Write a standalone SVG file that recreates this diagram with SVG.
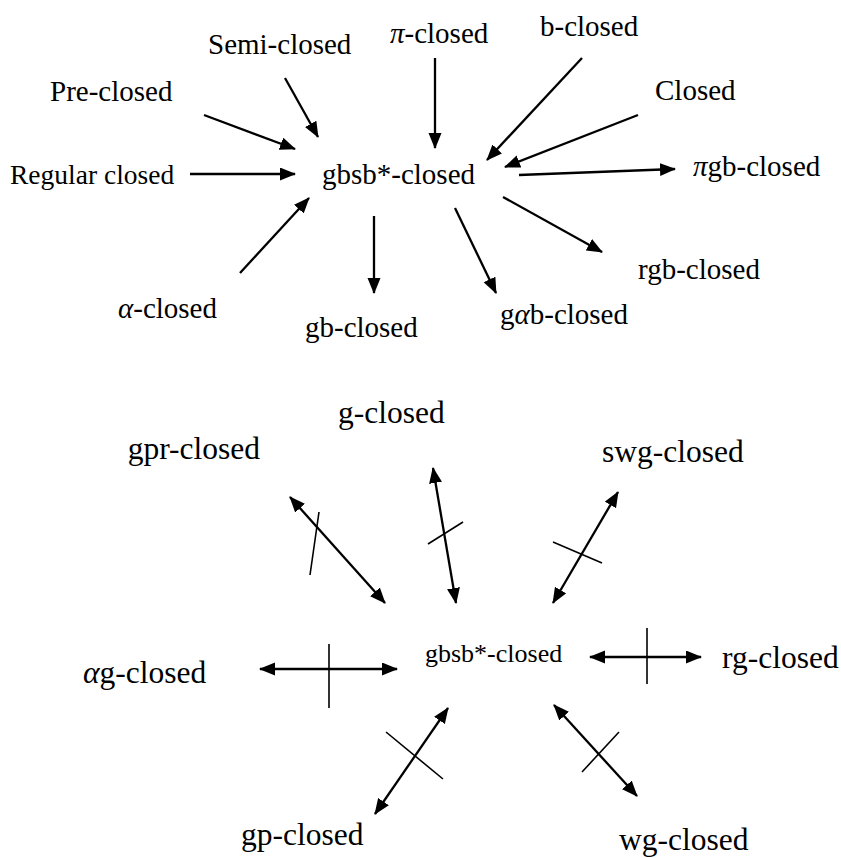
<svg xmlns="http://www.w3.org/2000/svg" width="841" height="858" viewBox="0 0 841 858">
<defs>
<marker id="ah" markerUnits="userSpaceOnUse" markerWidth="18" markerHeight="14" refX="15" refY="6.5" orient="auto-start-reverse" viewBox="0 0 18 14">
<path d="M0,0 L16,6.5 L0,13 z" fill="#000"/>
</marker>
<style>
text{font-family:"Liberation Serif","Times New Roman",serif;fill:#000}
.t{font-size:29px}
.b{font-size:31.5px}
.s{font-size:26px}
.m{font-style:italic}
.a{stroke:#000;stroke-width:2.3;fill:none;marker-end:url(#ah)}
.d{stroke:#000;stroke-width:2.3;fill:none;marker-start:url(#ah);marker-end:url(#ah)}
.k{stroke:#000;stroke-width:1.6;fill:none}
</style>
</defs>
<rect width="841" height="858" fill="#fff"/>
<g id="connectors">
<line class="a" x1="285" y1="78" x2="318" y2="137"/>
<line class="a" x1="204" y1="115" x2="295" y2="149"/>
<line class="a" x1="190" y1="174" x2="295" y2="174"/>
<line class="a" x1="435" y1="58" x2="435" y2="148"/>
<line class="a" x1="582" y1="58" x2="487" y2="160"/>
<line class="a" x1="638" y1="115" x2="505" y2="167"/>
<line class="a" x1="519" y1="175" x2="675" y2="169"/>
<line class="a" x1="240" y1="273" x2="309" y2="198"/>
<line class="a" x1="374" y1="216" x2="374" y2="293"/>
<line class="a" x1="455" y1="208" x2="496" y2="293"/>
<line class="a" x1="503" y1="197" x2="602" y2="252"/>
<line class="d" x1="290" y1="497" x2="385" y2="603"/>
<line class="k" x1="319" y1="512" x2="310" y2="575"/>
<line class="d" x1="433" y1="468" x2="456" y2="603"/>
<line class="k" x1="428" y1="544" x2="463" y2="522"/>
<line class="d" x1="618" y1="492" x2="553" y2="603"/>
<line class="k" x1="553" y1="542" x2="602" y2="563"/>
<line class="d" x1="260" y1="669" x2="397" y2="669"/>
<line class="k" x1="329" y1="644" x2="329" y2="708"/>
<line class="d" x1="590" y1="657" x2="701" y2="657"/>
<line class="k" x1="647" y1="628" x2="647" y2="684"/>
<line class="d" x1="448" y1="708" x2="375" y2="814"/>
<line class="k" x1="386" y1="732" x2="443" y2="779"/>
<line class="d" x1="554" y1="705" x2="637" y2="796"/>
<line class="k" x1="619" y1="732" x2="582" y2="772"/>
</g>
<g id="semi-closed"><text class="t" x="208" y="54">Semi-closed</text></g>
<g id="pi-closed"><text class="t" x="390" y="43"><tspan class="m">π</tspan>-closed</text></g>
<g id="b-closed"><text class="t" x="540" y="36">b-closed</text></g>
<g id="pre-closed"><text class="t" x="50" y="101">Pre-closed</text></g>
<g id="closed"><text class="t" x="655" y="100">Closed</text></g>
<g id="regular-closed"><text x="10" y="184" style="font-size:27.5px">Regular closed</text></g>
<g id="gbsb-top"><text class="t" x="322" y="184">gbsb*-closed</text></g>
<g id="pigb-closed"><text class="t" x="693" y="176"><tspan class="m">π</tspan>gb-closed</text></g>
<g id="rgb-closed"><text class="t" x="638" y="279">rgb-closed</text></g>
<g id="alpha-closed"><text class="t" x="118" y="318"><tspan class="m">α</tspan>-closed</text></g>
<g id="gb-closed"><text class="t" x="305" y="337">gb-closed</text></g>
<g id="galphab-closed"><text class="t" x="500" y="324">g<tspan class="m">α</tspan>b-closed</text></g>
<g id="g-closed"><text class="b" x="338" y="423">g-closed</text></g>
<g id="gpr-closed"><text class="b" x="260" y="459" text-anchor="end">gpr-closed</text></g>
<g id="swg-closed"><text class="b" x="602" y="462">swg-closed</text></g>
<g id="alphag-closed"><text class="b" x="83" y="683"><tspan class="m">α</tspan>g-closed</text></g>
<g id="gbsb-bottom"><text class="s" x="425" y="662">gbsb*-closed</text></g>
<g id="rg-closed"><text class="b" x="722" y="668">rg-closed</text></g>
<g id="gp-closed"><text class="b" x="241" y="845">gp-closed</text></g>
<g id="wg-closed"><text class="b" x="619" y="850">wg-closed</text></g>
</svg>
